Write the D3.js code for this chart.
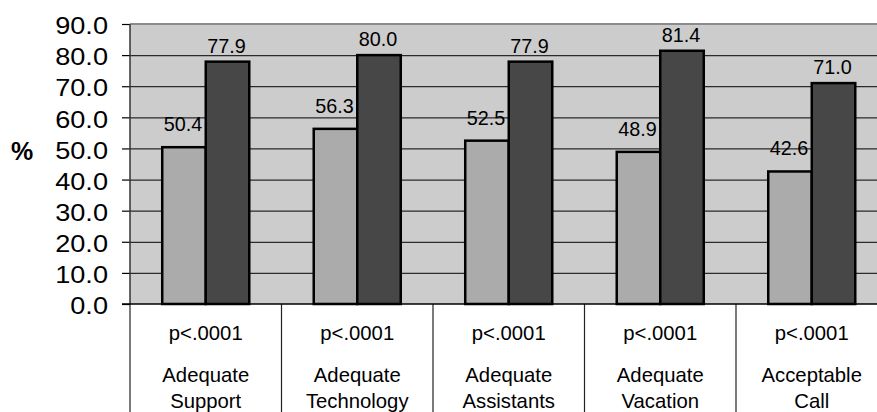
<!DOCTYPE html>
<html>
<head>
<meta charset="utf-8">
<script src="https://cdn.jsdelivr.net/npm/d3@7/dist/d3.min.js"></script>
<style>
  html, body { margin: 0; padding: 0; background: #ffffff; }
  svg { display: block; }
  text { font-family: "Liberation Sans", Arial, sans-serif; fill: #000; }
</style>
</head>
<body>
<script>
// ---- data ----
const categories = ["Adequate Support", "Adequate Technology", "Adequate Assistants", "Adequate Vacation", "Acceptable Call"];
const categoryLines = [["Adequate", "Support"], ["Adequate", "Technology"], ["Adequate", "Assistants"], ["Adequate", "Vacation"], ["Acceptable", "Call"]];
const pValues = ["p<.0001", "p<.0001", "p<.0001", "p<.0001", "p<.0001"];
const seriesNames = ["Group A", "Group B"];
const seriesA = [50.4, 56.3, 52.5, 48.9, 42.6];
const seriesB = [77.9, 80.0, 77.9, 81.4, 71.0];
const yTicks = [0, 10, 20, 30, 40, 50, 60, 70, 80, 90];
const yLabel = "%";

// ---- layout ----
const W = 877, H = 412;
const plotLeft = 130, plotTop = 24, plotBottom = 304;
const bandW = 151.5;
const colors = ["#ababab", "#474747"];

const svg = d3.select("body").append("svg").attr("width", W).attr("height", H);

const x = d3.scaleBand().domain(categories).range([plotLeft, plotLeft + bandW * categories.length]).padding(0);
const xs = d3.scaleBand().domain(seriesNames).range([0, x.bandwidth()]).paddingInner(0).paddingOuter(0.741);
const y = d3.scaleLinear().domain([0, 90]).range([plotBottom, plotTop]);

// plot background
svg.append("rect").attr("x", plotLeft).attr("y", plotTop).attr("width", x.range()[1] - plotLeft).attr("height", plotBottom - plotTop).attr("fill", "#cccccc");

// gridlines
svg.append("g").selectAll("line").data(yTicks.filter(v => v > 0 && v < 90)).join("line")
  .attr("x1", plotLeft).attr("x2", x.range()[1])
  .attr("y1", d => y(d) + 0.5).attr("y2", d => y(d) + 0.5)
  .attr("stroke", "#2a2a2a").attr("stroke-width", 1.2);
// top border
svg.append("line").attr("x1", plotLeft).attr("x2", x.range()[1]).attr("y1", y(90)).attr("y2", y(90))
  .attr("stroke", "#8a8a8a").attr("stroke-width", 2);

// y axis
const sx = 1.18;
const yAxis = svg.append("g").attr("transform", `translate(${plotLeft},0)`)
  .call(d3.axisLeft(y).tickValues(yTicks).tickSize(8).tickFormat(d3.format(".1f")));
yAxis.select(".domain").remove();
yAxis.selectAll(".tick line").attr("stroke", "#000").attr("stroke-width", 1.2);
yAxis.selectAll(".tick text")
  .attr("font-size", 23).attr("font-family", "Liberation Sans, Arial, sans-serif")
  .attr("x", -22 / sx).attr("dy", "0.42em").attr("transform", `scale(${sx},1)`).attr("fill", "#000");

// left plot edge + continuing divider lines
const bounds = d3.range(categories.length + 1).map(i => plotLeft + i * x.step());
svg.append("line").attr("x1", plotLeft).attr("x2", plotLeft).attr("y1", plotTop).attr("y2", plotBottom)
  .attr("stroke", "#333").attr("stroke-width", 1.5);
svg.append("g").selectAll("line").data(bounds).join("line")
  .attr("x1", d => d).attr("x2", d => d).attr("y1", plotBottom).attr("y2", H)
  .attr("stroke", "#222").attr("stroke-width", 1.2);
// baseline axis
svg.append("line").attr("x1", plotLeft - 8).attr("x2", W).attr("y1", plotBottom).attr("y2", plotBottom)
  .attr("stroke", "#000").attr("stroke-width", 1.5);

// bars and labels, series by series
const allSeries = [seriesA, seriesB];
const lift = [16, 8.7];
allSeries.forEach((vals, si) => {
  const g = svg.append("g");
  g.selectAll("rect").data(vals).join("rect")
    .attr("x", (d, i) => x(categories[i]) + xs(seriesNames[si]))
    .attr("y", d => y(d))
    .attr("width", xs.bandwidth())
    .attr("height", d => plotBottom - y(d))
    .attr("fill", colors[si]).attr("stroke", "#000").attr("stroke-width", 2.5);
  g.selectAll("text").data(vals).join("text")
    .attr("text-anchor", "middle")
    .attr("transform", (d, i) => `translate(${x(categories[i]) + xs(seriesNames[si]) + xs.bandwidth() / 2 - 1},${y(d) - lift[si]})`)
    .attr("font-size", 19.8)
    .text(d => d3.format(".1f")(d));
});

// category labels
const cg = svg.append("g");
categories.forEach((c, i) => {
  const cx = x(c) + x.bandwidth() / 2;
  cg.append("text").attr("text-anchor", "middle").attr("x", cx).attr("y", 340).attr("font-size", 20.3).text(pValues[i]);
  categoryLines[i].forEach((ln, k) => {
    cg.append("text").attr("text-anchor", "middle").attr("x", cx).attr("y", 382 + k * 26).attr("font-size", 20.3).text(ln);
  });
});

// y label
svg.append("text").attr("x", 22).attr("y", 160).attr("text-anchor", "middle")
  .attr("font-size", 25).attr("font-weight", "bold").text(yLabel);
</script>
</body>
</html>
